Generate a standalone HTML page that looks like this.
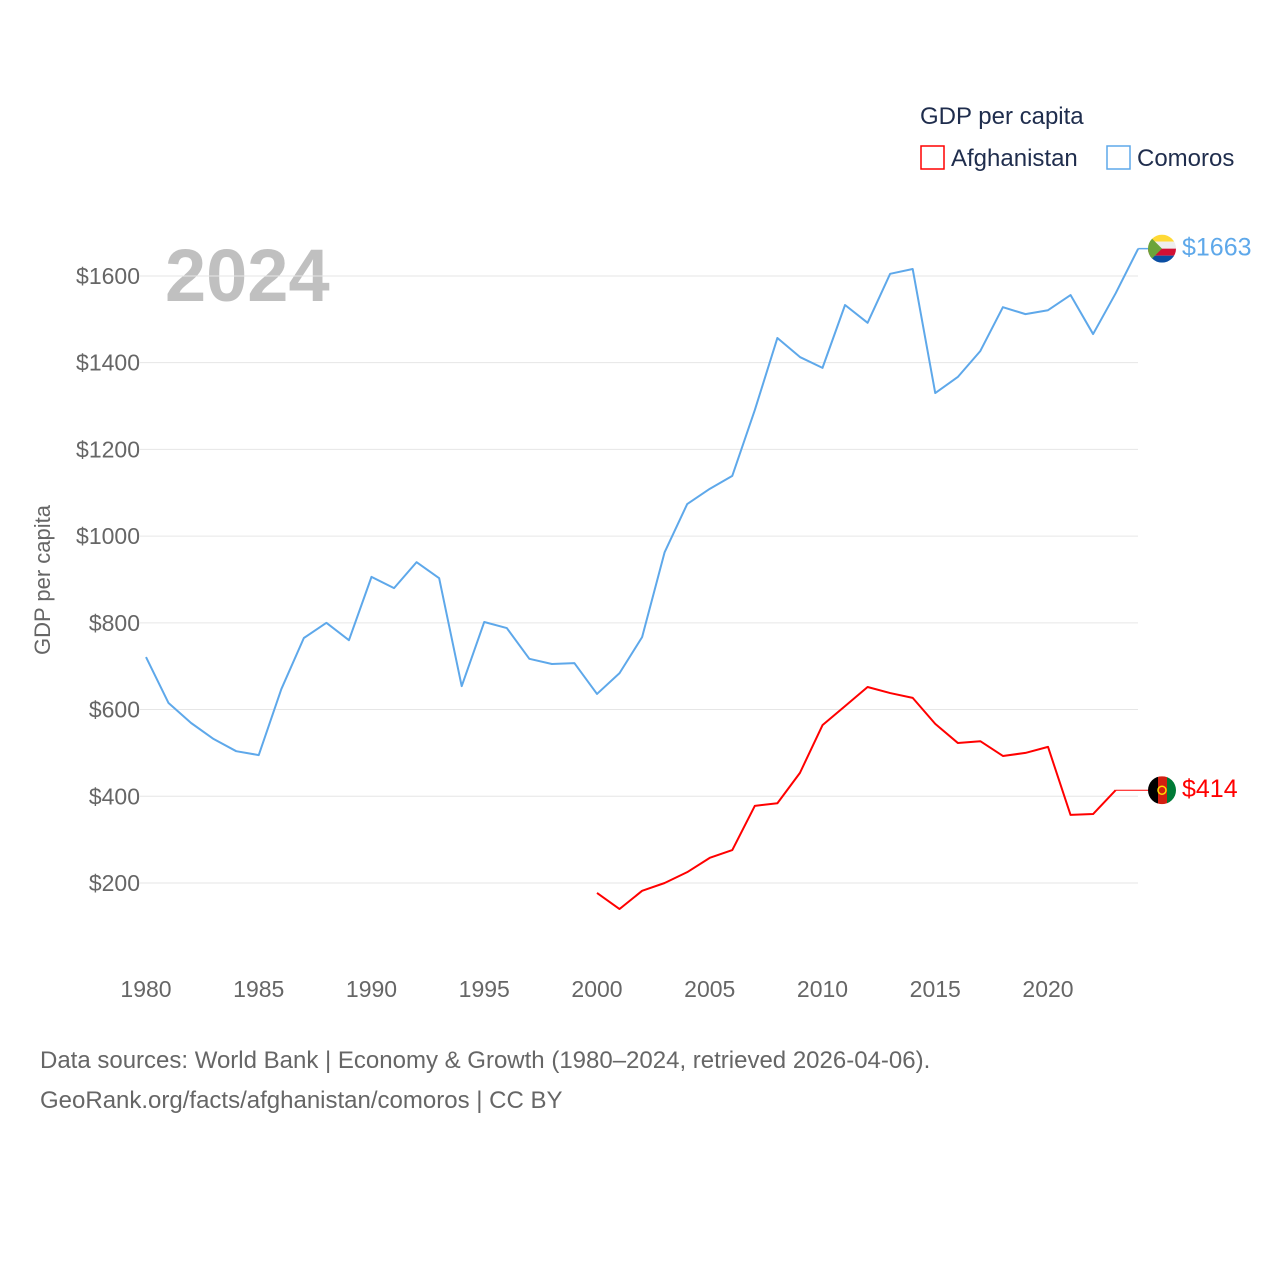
<!DOCTYPE html>
<html><head><meta charset="utf-8"><style>
body{margin:0;background:#fff;font-family:"Liberation Sans",sans-serif}
</style></head><body>
<svg width="1280" height="1280" id="chart">
<text x="920" y="124" font-size="24" fill="#1f2d4d">GDP per capita</text>
<rect x="921" y="146" width="23" height="23" fill="none" stroke="#f00" stroke-width="1.5"/>
<text x="951" y="166" font-size="24" fill="#1f2d4d">Afghanistan</text>
<rect x="1107" y="146" width="23" height="23" fill="none" stroke="#5ea8ea" stroke-width="1.5"/>
<text x="1137" y="166" font-size="24" fill="#1f2d4d">Comoros</text>
<text x="165" y="301" font-size="74" font-weight="bold" fill="#c0c0c0">2024</text>
<text transform="translate(50,580) rotate(-90)" text-anchor="middle" font-size="22" fill="#666">GDP per capita</text>
<g id="grid"></g><g id="lines"></g>
<text x="40" y="1068" font-size="24" fill="#666">Data sources: World Bank | Economy &amp; Growth (1980–2024, retrieved 2026-04-06).</text>
<text x="40" y="1108" font-size="24" fill="#666">GeoRank.org/facts/afghanistan/comoros | CC BY</text>
</svg>
<script>
const years=[];for(let y=1980;y<=2024;y++)years.push(y);
const comoros=[721,615,569,532,504,495,647,765,800,760,906,880,940,903,654,802,788,717,705,707,636,684,767,963,1074,1109,1139,1291,1457,1413,1388,1533,1492,1605,1616,1330,1367,1427,1528,1512,1521,1556,1466,1560,1663];
const afgYears=[2000,2001,2002,2003,2004,2005,2006,2007,2008,2009,2010,2011,2012,2013,2014,2015,2016,2017,2018,2019,2020,2021,2022,2023];
const afghanistan=[177,140,182,200,225,258,276,378,384,454,564,608,652,638,627,567,523,527,493,500,514,357,359,414];
const yTicks=[200,400,600,800,1000,1200,1400,1600];
const xTicks=[1980,1985,1990,1995,2000,2005,2010,2015,2020];
const X=y=>146+(y-1980)*22.55, Y=v=>883-(v-200)*0.4336;
const NS="http://www.w3.org/2000/svg";
function mk(t,a,p){const e=document.createElementNS(NS,t);for(const k in a)e.setAttribute(k,a[k]);p.appendChild(e);return e;}
const g=document.getElementById('grid'),L=document.getElementById('lines');
yTicks.forEach(v=>{const l=mk('line',{x1:140,x2:1138,y1:Y(v),y2:Y(v),stroke:'#e6e6e6'},g);


const t=mk('text',{x:140,y:Y(v)+8,'text-anchor':'end','font-size':23,fill:'#666'},g);t.textContent='$'+v;

});
xTicks.forEach(v=>{const t=mk('text',{x:X(v),y:997,'text-anchor':'middle','font-size':23,fill:'#666'},g);t.textContent=v;

});
function line(xs,vs,c,name){const p=mk('polyline',{points:xs.map((x,i)=>X(x)+','+Y(vs[i])).join(' '),fill:'none',stroke:c,'stroke-width':2,'stroke-linejoin':'round'},L);

}
line(years,comoros,'#5ea8ea','comoros-line');
line(afgYears,afghanistan,'#f00','afghanistan-line');
const cy=Y(comoros[comoros.length-1]),ay=Y(afghanistan[afghanistan.length-1]);
mk('line',{x1:X(2024),x2:1148,y1:cy,y2:cy,stroke:'#5ea8ea','stroke-width':1.5},L);
mk('line',{x1:X(2023),x2:1148,y1:ay,y2:ay,stroke:'#f00','stroke-width':1},L);
const c1=mk('g',{},L);
mk('clipPath',{id:'cc'},c1).appendChild(document.createElementNS(NS,'circle')).setAttribute('r',14);
const cf=mk('g',{transform:`translate(1162,${cy})`,'clip-path':'url(#cc)'},c1);
mk('rect',{x:-14,y:-14,width:28,height:7,fill:'#ffd935'},cf);mk('rect',{x:-14,y:-7,width:28,height:7,fill:'#eee'},cf);
mk('rect',{x:-14,y:0,width:28,height:7,fill:'#d21034'},cf);mk('rect',{x:-14,y:7,width:28,height:7,fill:'#0a4ea2'},cf);
mk('polygon',{points:'-14,-14 0,0 -14,14',fill:'#6ba43a'},cf);
const a1=mk('g',{},L);
mk('clipPath',{id:'ac'},a1).appendChild(document.createElementNS(NS,'circle')).setAttribute('r',14);
const af=mk('g',{transform:`translate(1162,${ay})`,'clip-path':'url(#ac)'},a1);
mk('rect',{x:-14,y:-14,width:10,height:28,fill:'#000'},af);mk('rect',{x:-4,y:-14,width:9,height:28,fill:'#d32011'},af);
mk('rect',{x:5,y:-14,width:9,height:28,fill:'#007a36'},af);mk('circle',{r:4,fill:'none',stroke:'#fd0','stroke-width':1.5},af);
const t1=mk('text',{x:1182,y:cy+7,'font-size':25,fill:'#5ea8ea'},L);t1.textContent='$'+comoros[comoros.length-1];


const t2=mk('text',{x:1182,y:ay+7,'font-size':25,fill:'#f00'},L);t2.textContent='$'+afghanistan[afghanistan.length-1];


</script>
</body></html>
